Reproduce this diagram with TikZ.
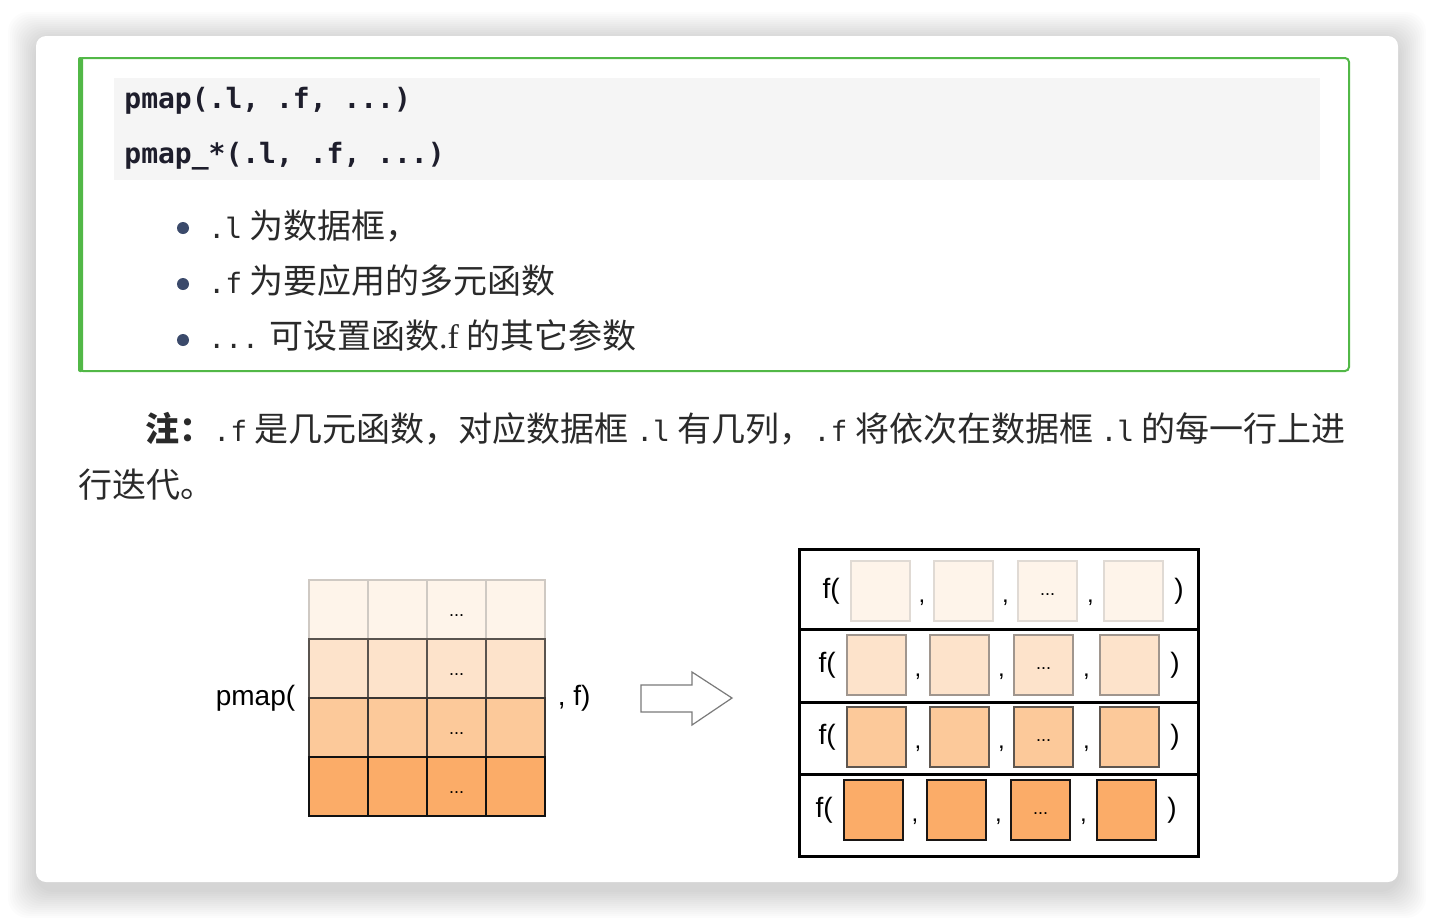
\documentclass[tikz,border=0pt]{standalone}
\usepackage{fontspec}
\setmainfont{Noto Sans CJK SC}
\setmonofont{DejaVu Sans Mono}
\newfontfamily\arialfont{Liberation Sans}
\newfontfamily\timesfont{Liberation Serif}
\usepackage{tikz}
\usetikzlibrary{positioning,calc,fit}
\definecolor{FrameGreen}{HTML}{52B847}
\definecolor{CodeGray}{HTML}{F5F5F5}
\definecolor{InkDark}{HTML}{2A2A2A}
\definecolor{CodeInk}{HTML}{1E1E2C}
\definecolor{BulletBlue}{HTML}{3B4A6B}
\definecolor{ArrowGray}{HTML}{7A7A7A}
\definecolor{CellA}{HTML}{FEF4EA}
\definecolor{CellB}{HTML}{FDE3CB}
\definecolor{CellC}{HTML}{FCC99A}
\definecolor{CellD}{HTML}{FBAC68}
\definecolor{EdgeA}{HTML}{CFC9C3}
\definecolor{EdgeB}{HTML}{5A544F}
\definecolor{EdgeC}{HTML}{3A3633}
\definecolor{EdgeD}{HTML}{111111}
\definecolor{SqEdgeA}{HTML}{E0DAD4}
\definecolor{SqEdgeB}{HTML}{A0968E}
\definecolor{SqEdgeC}{HTML}{5E564F}
\definecolor{SqEdgeD}{HTML}{1A1614}
\newcommand{\codebit}[1]{{\ttfamily\fontsize{14}{16}\selectfont #1}}

\begin{document}
\begin{tikzpicture}[x=0.5pt,y=-0.5pt,
  txt/.style={inner sep=0pt,anchor=base west,text=InkDark},
  code/.style={txt,text=CodeInk,font=\ttfamily\bfseries\fontsize{14}{16}\selectfont},
  body/.style={txt,font=\fontsize{17}{20}\selectfont},
  cell/.style={draw,line width=1pt,minimum width=29.5pt,minimum height=29.5pt,inner sep=0pt,outer sep=0pt,anchor=north west},
  sq/.style={draw,line width=1pt,minimum width=29.5pt,minimum height=30pt,inner sep=0pt,anchor=west},
  rowbox/.style={draw,line width=1.5pt,minimum width=199.5pt,inner sep=0pt,anchor=north west},
  lab/.style={inner sep=0pt,font=\arialfont\fontsize{14}{16}\selectfont},
  dots/.style={inner sep=0pt,font=\arialfont\fontsize{9}{10}\selectfont},
  comma/.style={inner sep=0pt,anchor=base,font=\arialfont\fontsize{12}{14}\selectfont},
  bullet/.style={circle,fill=BulletBlue,minimum size=6pt,inner sep=0pt},
  hollow/.style={draw=ArrowGray,line width=0.6pt,fill=white}
]
\useasboundingbox (0,0) rectangle (1434,918);
\fill[white] (0,0) rectangle (1434,918);
% card with soft shadow
\foreach \i in {1,...,14}
  \fill[black,opacity=0.012,rounded corners=10pt] ({36-2*\i},{40-2*\i}) rectangle ({1398+2*\i},{890+2*\i});
\fill[white,rounded corners=5pt] (36,36) rectangle (1398,882);

% usage box
\draw[FrameGreen,line width=1pt,rounded corners=2pt] (79,58) rectangle (1349,371);
\fill[FrameGreen,rounded corners=1pt] (78,57) rectangle (83,372);
\fill[CodeGray] (114,78) rectangle (1320,180);
\node[code] (sig1) at (124,108) {pmap(.l, .f, ...)};
\node[code] (sig2) at (124,163) {pmap\_*(.l, .f, ...)};

\node[bullet] (b1) at (183,228) {};
\node[bullet] (b2) at (183,284) {};
\node[bullet] (b3) at (183,340) {};
\node[body] (item1) at (208,238) {\codebit{.l} 为数据框，};
\node[body] (item2) at (208,293) {\codebit{.f} 为要应用的多元函数};
\node[body] (item3) at (208,348) {\codebit{...} 可设置函数{\timesfont .f} 的其它参数};

% note
\node[body] (note1) at (145,441) {\textbf{注：}\codebit{.f} 是几元函数，对应数据框 \codebit{.l} 有几列，\codebit{.f} 将依次在数据框 \codebit{.l} 的每一行上进};
\node[body] (note2) at (78,497) {行迭代。};

% data frame
\foreach \r/\fc/\dc in {1/CellA/EdgeA,2/CellB/EdgeB,3/CellC/EdgeC,4/CellD/EdgeD}{
  \foreach \c in {1,...,4}
    \node[cell,fill=\fc,draw=\dc] (g\r\c) at ({309+59*(\c-1)},{580+59*(\r-1)}) {};
  \node[dots] (gd\r) at ([yshift=-3pt]g\r3.center) {...};
}
\node[fit=(g11)(g44),inner sep=0pt] (grid) {};
\node[lab,left=6.5pt of grid] (call) {pmap(};
\node[lab,right=6pt of grid] (tail) {, f)};

% block arrow
\draw[hollow] (641,685) -- (692,685) -- (692,672) -- (732,698) -- (692,725) -- (692,712) -- (641,712) -- cycle;

% row-wise calls
\foreach \r/\top/\h/\sx/\cy/\fc/\dc in {1/548/80/850/591/CellA/SqEdgeA,2/628/73/846/665/CellB/SqEdgeB,3/701/72/846/737/CellC/SqEdgeC,4/773/82/843/810/CellD/SqEdgeD}{
  \node[rowbox,minimum height=\h*0.5pt] (r\r) at (798,\top) {};
  \foreach \c/\dx in {1/0,2/83,3/167,4/253}
    \node[sq,fill=\fc,draw=\dc] (s\r\c) at ({\sx+\dx},\cy) {};
  \node[dots] (sd\r) at ([yshift=-2pt]s\r3.center) {...};
  \node[lab,left=5pt of s\r1] (fo\r) {f(};
  \node[lab,right=5pt of s\r4] (fc\r) {)};
  \foreach \c/\n in {1/2,2/3,3/4}
    \node[comma] (cm\r\c) at ($(s\r\c.south east)!0.5!(s\r\n.south west)+(0,-20)$) {,};
}
\end{tikzpicture}
\end{document}
